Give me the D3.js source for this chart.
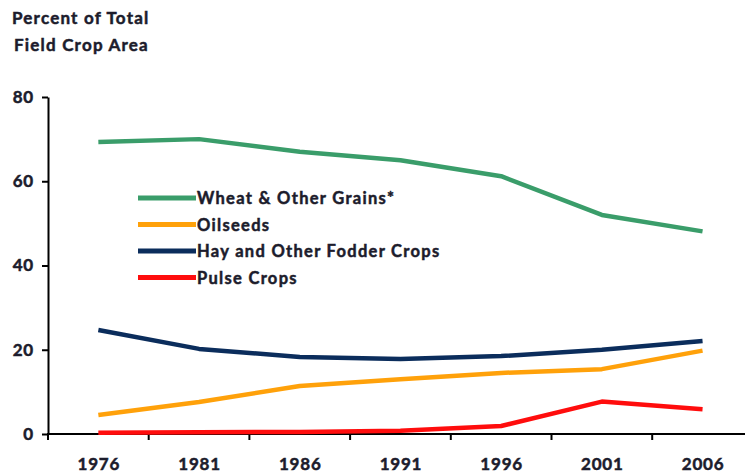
<!DOCTYPE html>
<html>
<head>
<meta charset="utf-8">
<script src="https://cdn.jsdelivr.net/npm/d3@7"></script>
<style>
  body { margin: 0; background: #fff; }
  svg { display: block; font-family: Lato, "Open Sans", sans-serif; font-weight: bold; }
  svg text { stroke: #1c1c2c; stroke-width: 0.5px; }
</style>
</head>
<body>
<svg id="chart"></svg>
<script>
const w = 745;
const h = 475;

const years = ["1976", "1981", "1986", "1991", "1996", "2001", "2006"];
const yTicks = [0, 20, 40, 60, 80];

const wheat = [69.3, 70.0, 67.0, 65.0, 61.2, 52.0, 48.1];
const oilseeds = [4.5, 7.6, 11.4, 13.0, 14.5, 15.4, 19.8];
const hay = [24.7, 20.2, 18.3, 17.8, 18.5, 20.0, 22.1];
const pulse = [0.3, 0.4, 0.5, 0.8, 1.9, 7.7, 5.9];

const seriesNames = ["Wheat & Other Grains*", "Oilseeds", "Hay and Other Fodder Crops", "Pulse Crops"];
const seriesColors = ["#3a9d6a", "#ffa10a", "#0b2d5c", "#ff0d0d"];
const seriesValues = [wheat, oilseeds, hay, pulse];

const textColor = "#1c1c2c";

const svg = d3.select("#chart")
  .attr("width", w)
  .attr("height", h)
  .attr("viewBox", [0, 0, w, h]);

const x = d3.scaleBand()
  .domain(years)
  .range([48, 48 + 7 * 100.7]);

const y = d3.scaleLinear()
  .domain([0, 80])
  .range([434, 97]);

// title
svg.append("text")
  .attr("x", 12).attr("y", 24)
  .attr("font-size", 17)
  .attr("letter-spacing", 1.2)
  .attr("fill", textColor)
  .text("Percent of Total");
svg.append("text")
  .attr("x", 14).attr("y", 51)
  .attr("font-size", 17)
  .attr("letter-spacing", 1.2)
  .attr("fill", textColor)
  .text("Field Crop Area");

// y axis
const yAxis = svg.append("g")
  .attr("transform", "translate(48,0)")
  .call(d3.axisLeft(y).tickValues(yTicks).tickSize(6).tickSizeOuter(0));
yAxis.select(".domain").attr("stroke", "#000").attr("stroke-width", 2);
yAxis.selectAll(".tick line").attr("stroke", "#000").attr("stroke-width", 2);
yAxis.selectAll(".tick text")
  .attr("x", -14)
  .attr("font-size", 17)
  .attr("letter-spacing", 0.8)
  .attr("font-family", "Lato, sans-serif")
  .attr("font-weight", "bold")
  .attr("fill", textColor);

// x axis: line, boundary ticks, centered labels
const xAxis = svg.append("g");
xAxis.append("line")
  .attr("x1", x.range()[0] - 1).attr("x2", x.range()[1])
  .attr("y1", y(0)).attr("y2", y(0))
  .attr("stroke", "#000").attr("stroke-width", 2);
xAxis.selectAll("line.tick")
  .data(years.concat(["end"]))
  .enter().append("line")
  .attr("class", "tick")
  .attr("x1", (d, i) => x.range()[0] + i * x.step())
  .attr("x2", (d, i) => x.range()[0] + i * x.step())
  .attr("y1", y(0)).attr("y2", y(0) + 6)
  .attr("stroke", "#000").attr("stroke-width", 2);
xAxis.selectAll("text")
  .data(years)
  .enter().append("text")
  .attr("x", d => x(d) + x.bandwidth() / 2 + 0.5)
  .attr("y", 470)
  .attr("text-anchor", "middle")
  .attr("font-size", 17)
  .attr("letter-spacing", 0.8)
  .attr("fill", textColor)
  .text(d => d);

// lines
const line = d3.line()
  .x((d, i) => x(years[i]) + x.bandwidth() / 2)
  .y(d => y(d));

svg.append("g")
  .selectAll("path")
  .data(seriesValues)
  .enter().append("path")
  .attr("d", d => line(d))
  .attr("fill", "none")
  .attr("stroke", (d, i) => seriesColors[i])
  .attr("stroke-width", 4.5)
  .attr("stroke-linejoin", "round");

// legend
const legend = svg.append("g")
  .selectAll("g")
  .data(seriesNames)
  .enter().append("g")
  .attr("transform", (d, i) => `translate(138,${198 + i * 26.5})`);
legend.append("line")
  .attr("x1", 0).attr("x2", 58)
  .attr("y1", 0).attr("y2", 0)
  .attr("stroke", (d, i) => seriesColors[i])
  .attr("stroke-width", 5);
legend.append("text")
  .attr("x", 59).attr("y", 6)
  .attr("font-size", 16.5)
  .attr("letter-spacing", 1.3)
  .attr("fill", textColor)
  .text(d => d);
</script>
</body>
</html>
